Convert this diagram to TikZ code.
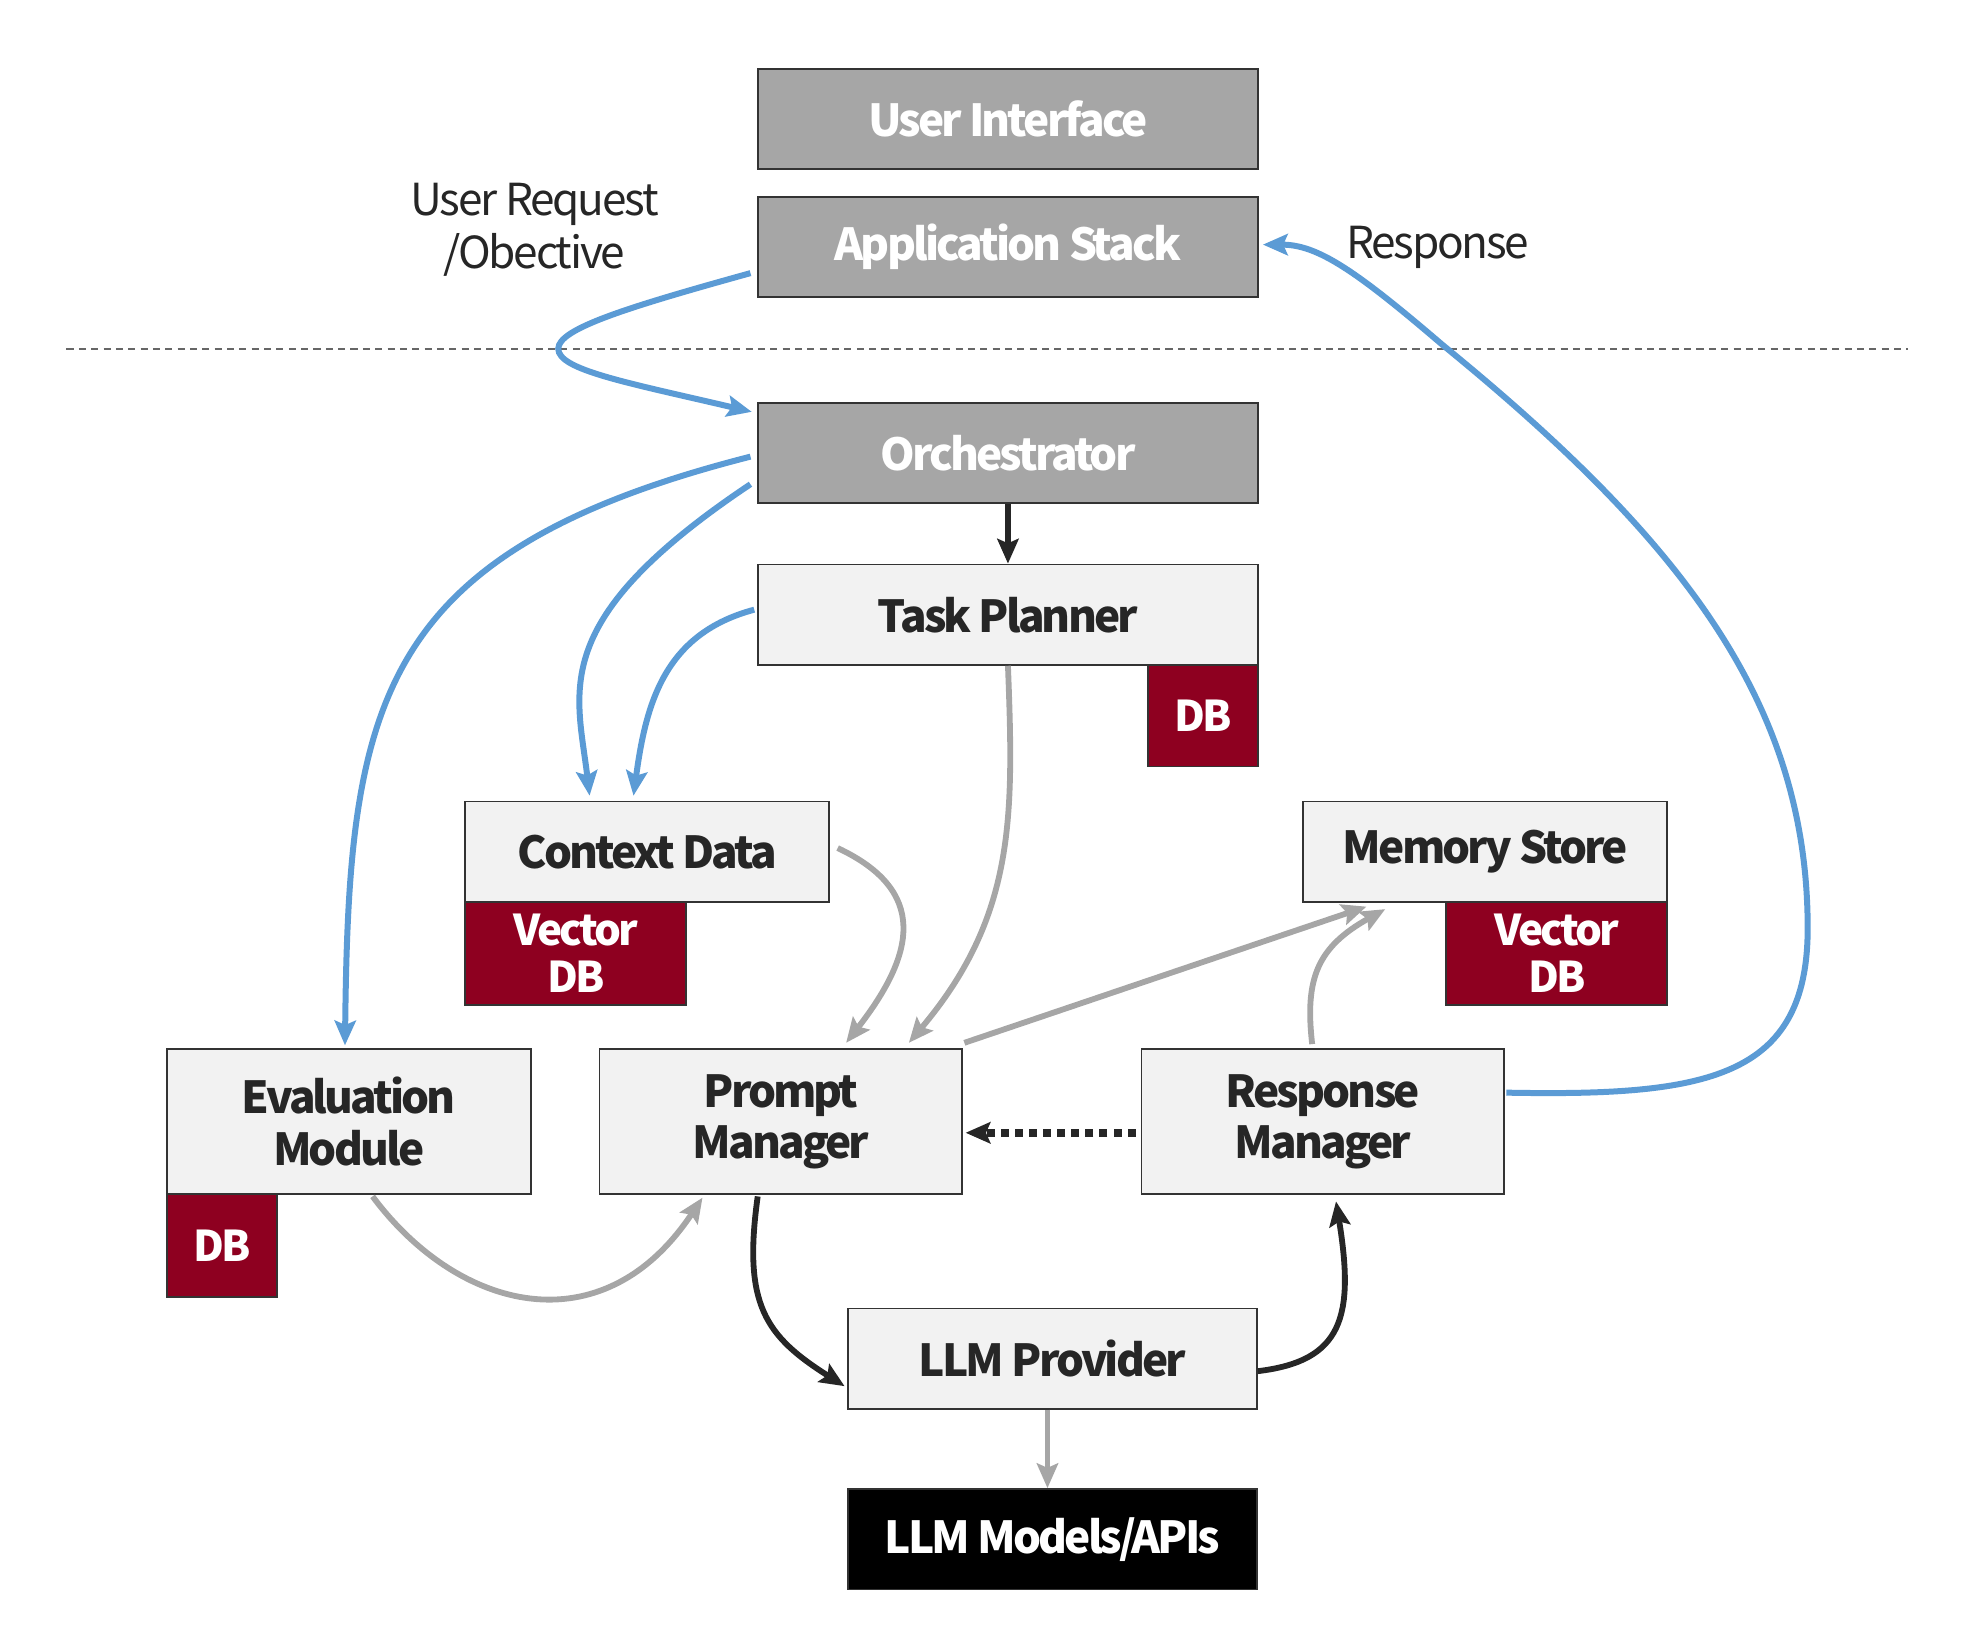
\documentclass[tikz,border=0pt]{standalone}
\usepackage{fontspec}
\setmainfont{Noto Sans CJK SC}[LetterSpace=-5.0,BoldFeatures={LetterSpace=-6.5}]
\usetikzlibrary{arrows.meta,calc}
\definecolor{boxgray}{HTML}{A6A6A6}
\definecolor{boxlight}{HTML}{F2F2F2}
\definecolor{dbred}{HTML}{8E0020}
\definecolor{linkblue}{HTML}{5B9BD5}
\definecolor{linkgray}{HTML}{A6A6A6}
\definecolor{darktext}{HTML}{262626}
\definecolor{borderc}{HTML}{333333}
\tikzset{
  basebox/.style={draw=borderc,line width=1pt,inner sep=0pt,align=center,font=\fontsize{25}{29}\selectfont\bfseries},
  graybox/.style={basebox,fill=boxgray,text=white,minimum width=9.975cm,minimum height=2cm},
  lightbox/.style={basebox,fill=boxlight,text=darktext},
  blackbox/.style={basebox,fill=black,text=white},
  dbbox/.style={basebox,fill=dbred,text=white,font=\fontsize{24}{27}\selectfont\bfseries},
  plain/.style={text=darktext,align=center,font=\fontsize{25}{30}\selectfont},
  tip/.style={-{Stealth[length=14pt,width=12pt,inset=2.5pt]}},
  bluelink/.style={tip,draw=linkblue,line width=3.4pt},
  graylink/.style={tip,draw=linkgray,line width=3.3pt},
  blacklink/.style={tip,draw=darktext,line width=3.3pt},
}
\begin{document}
\begin{tikzpicture}[x=0.025cm,y=-0.025cm]
\useasboundingbox (0,0) rectangle (1568,1306.5);
% dashed separator
\draw[draw=black!60,line width=0.9pt,dash pattern=on 4pt off 3pt] (53,278) -- (1521,278);
% nodes
\node[graybox] (ui) at (803.5,95) {User Interface};
\node[graybox] (app) at (803.5,197) {Application Stack};
\node[graybox] (orch) at (803.5,361) {Orchestrator};
\node[lightbox,minimum width=9.975cm,minimum height=2cm] (tp) at (803.5,490) {Task Planner};
\node[dbbox,minimum width=2.2cm,minimum height=2.025cm] (tpdb) at (959,570.5) {DB};
\node[lightbox,minimum width=7.25cm,minimum height=2cm] (ctx) at (516,679) {Context Data};
\node[dbbox,minimum width=4.4cm,minimum height=2.05cm] (ctxdb) at (459,760) {Vector\\DB};
\node[lightbox,minimum width=7.25cm,minimum height=2cm] (mem) at (1184,679) {Memory Store};
\node[dbbox,minimum width=4.4cm,minimum height=2.05cm] (memdb) at (1241,760) {Vector\\DB};
\node[lightbox,minimum width=7.25cm,minimum height=2.9cm] (eval) at (278,894) {Evaluation\\Module};
\node[dbbox,minimum width=2.2cm,minimum height=2.05cm] (evaldb) at (177,993) {DB};
\node[lightbox,minimum width=7.225cm,minimum height=2.9cm] (pm) at (622.5,894) {Prompt\\Manager};
\node[lightbox,minimum width=7.225cm,minimum height=2.9cm] (rm) at (1054.5,894) {Response\\Manager};
\node[lightbox,minimum width=8.15cm,minimum height=2cm] (llm) at (839,1083) {LLM Provider};
\node[blackbox,minimum width=8.15cm,minimum height=2cm] (models) at (839,1227) {LLM Models/APIs};
% labels
\node[plain] (req) at (426,183) {User Request\\/Obective};
\node[plain] (resp) at (1146,197) {Response};
% blue connectors
\draw[bluelink] ($(app.south west)+(-5,-20)$) .. controls (500,245) and (445,262) .. (445,278)
  .. controls (445,295) and (500,305) .. ($(orch.north west)+(-4,8)$);
\draw[bluelink] ($(orch.west)+(-5,3)$) .. controls (300,440) and (278,560) .. ($(eval.north)+(-3,-2)$);
\draw[bluelink] ($(orch.west)+(-5,25)$) .. controls (435,495) and (460,550) .. ($(ctx.north)+(-46,-4)$);
\draw[bluelink] ($(tp.west)+(-2,-4)$) .. controls (530,505) and (515,560) .. ($(ctx.north)+(-11,-4)$);
\draw[bluelink] ($(rm.east)+(1,-23)$) .. controls (1360,874) and (1441,860) .. (1441,740)
  .. controls (1441,560) and (1340,430) .. (1150,275)
  .. controls (1080,215) and (1050,195) .. ($(app.east)+(3,-2)$);
% black connectors
\draw[blacklink] (orch.south) -- (tp.north);
\draw[blacklink] ($(pm.south)+(-18.5,1)$) .. controls (592,1040) and (610,1065) .. ($(llm.west)+(-2,22)$);
\draw[blacklink] ($(llm.east)+(0,10)$) .. controls (1070,1085) and (1080,1050) .. ($(rm.south)+(10.5,5)$);
\draw[blacklink,dash pattern=on 4.5pt off 3.5pt,line width=4.5pt] ($(rm.west)+(-4,9)$) -- ($(pm.east)+(2,9)$);
% gray connectors
\draw[graylink] (tp.south) .. controls (808,650) and (810,730) .. ($(pm.north)+(102,-4)$);
\draw[graylink] ($(ctx.east)+(6,-3)$) .. controls (740,710) and (730,760) .. ($(pm.north)+(52,-4)$);
\draw[graylink] ($(pm.north east)+(1,-4)$) -- ($(mem.south west)+(51,3)$);
\draw[graylink] ($(rm.north)+(-8.5,-3)$) .. controls (1040,780) and (1050,755) .. ($(mem.south west)+(66,5)$);
\draw[graylink] ($(eval.south)+(19,1)$) .. controls (365,1045) and (480,1075) .. ($(pm.south)+(-62.5,2)$);
\draw[graylink] ($(llm.south)+(-4,0)$) -- ($(models.north)+(-4,0)$);
\end{tikzpicture}
\end{document}
